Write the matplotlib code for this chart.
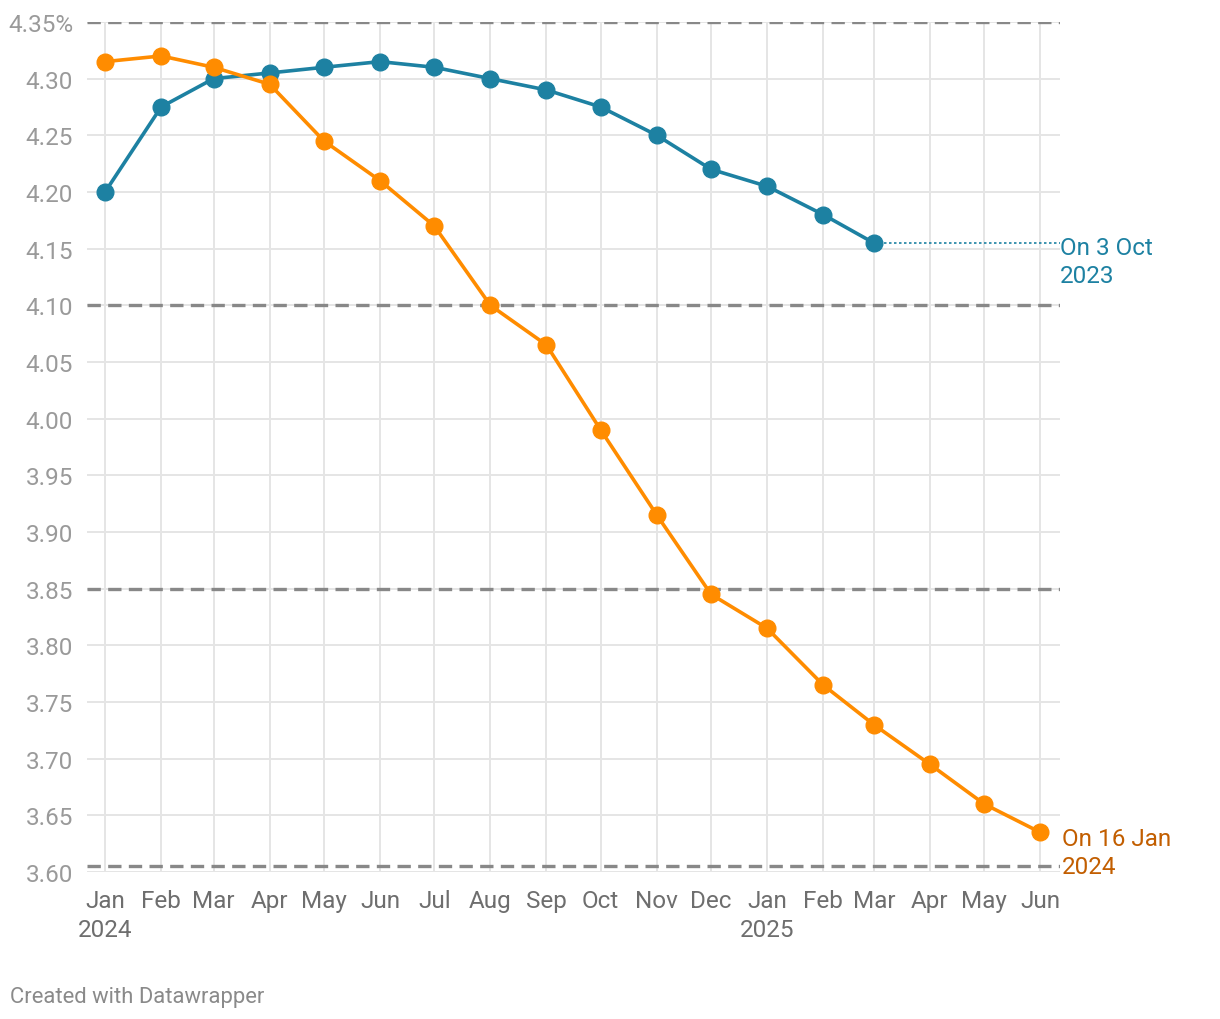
import matplotlib
matplotlib.use('Agg')
import matplotlib.pyplot as plt
import matplotlib.dates as mdates
import numpy as np
from datetime import datetime

plt.rcParams['font.family'] = ['Roboto', 'DejaVu Sans']

# forward curve of Bank Rate expectations, by month
months = ['2024-01', '2024-02', '2024-03', '2024-04', '2024-05', '2024-06',
          '2024-07', '2024-08', '2024-09', '2024-10', '2024-11', '2024-12',
          '2025-01', '2025-02', '2025-03', '2025-04', '2025-05', '2025-06']
oct_2023 = [4.20, 4.275, 4.30, 4.305, 4.31, 4.315, 4.31, 4.30, 4.29, 4.275,
            4.25, 4.22, 4.205, 4.18, 4.155]
jan_2024 = [4.315, 4.32, 4.31, 4.295, 4.245, 4.21, 4.17, 4.10, 4.065, 3.99,
            3.915, 3.845, 3.815, 3.765, 3.73, 3.695, 3.66, 3.635]
tick_labels = ['Jan\n2024', 'Feb', 'Mar', 'Apr', 'May', 'Jun', 'Jul', 'Aug',
               'Sep', 'Oct', 'Nov', 'Dec', 'Jan\n2025', 'Feb', 'Mar', 'Apr',
               'May', 'Jun']
y_ticks = [3.60, 3.65, 3.70, 3.75, 3.80, 3.85, 3.90, 3.95, 4.00, 4.05, 4.10,
           4.15, 4.20, 4.25, 4.30, 4.35]
dashed_levels = [4.35, 4.10, 3.85, 3.605]

dates = [datetime.strptime(m, '%Y-%m') for m in months]

BLUE = '#1d81a2'
ORANGE = '#ff8c00'
ORANGE_TXT = '#c25e00'
FS = 17.5

fig = plt.figure(figsize=(12.2, 10.2), dpi=100)
ax = fig.add_axes([0.0713, 0.1441, 0.869 - 0.0713, 0.9775 - 0.1441])

ax.set_xlim(datetime(2023, 12, 22), datetime(2025, 6, 12))
ax.set_ylim(3.60, 4.35)

ax.set_xticks(dates)
ax.set_xticklabels(tick_labels)
ax.set_yticks(y_ticks)
ax.set_yticklabels(['%.2f' % v if v < 4.349 else '%.2f%%' % v for v in y_ticks])

ax.grid(True, color='#e5e5e5', linewidth=1.4)
ax.set_axisbelow(True)
for s in ax.spines.values():
    s.set_visible(False)
ax.tick_params(length=0)
ax.tick_params(axis='y', pad=10, labelsize=FS, labelcolor='#9a9a9a')
ax.tick_params(axis='x', pad=12, labelsize=FS, labelcolor='#6e6e6e')
for lab in ax.get_xticklabels():
    lab.set_linespacing(1.35)

for lv in dashed_levels:
    ax.axhline(lv, color='#888888', linewidth=2.4, dashes=(4, 2.2), zorder=2)

# dotted lead-in to the blue label
xmax = ax.get_xlim()[1]
ax.plot([mdates.date2num(dates[len(oct_2023) - 1]), xmax],
        [oct_2023[-1], oct_2023[-1]], color=BLUE, linewidth=1.2,
        linestyle=(0, (1.5, 1.5)), zorder=3)

ax.plot(dates[:len(oct_2023)], oct_2023, color=BLUE, linewidth=2.6,
        marker='o', markersize=12, zorder=4)
ax.plot(dates, jan_2024, color=ORANGE, linewidth=2.6,
        marker='o', markersize=12, zorder=5)

ax.annotate('On 3 Oct\n2023', xy=(xmax, oct_2023[-1]), xytext=(0, 5),
            textcoords='offset points', ha='left', va='top', fontsize=FS,
            color=BLUE, linespacing=1.3, annotation_clip=False)
ax.annotate('On 16 Jan\n2024', xy=(xmax, jan_2024[-1]), xytext=(1, 4),
            textcoords='offset points', ha='left', va='top', fontsize=FS,
            color=ORANGE_TXT, linespacing=1.3, annotation_clip=False)

fig.text(10 / 1220, 1 - 998 / 1020, 'Created with Datawrapper',
         fontsize=15.8, color='#8a8a8a', ha='left', va='center')

fig.savefig('out.png', dpi=100)
